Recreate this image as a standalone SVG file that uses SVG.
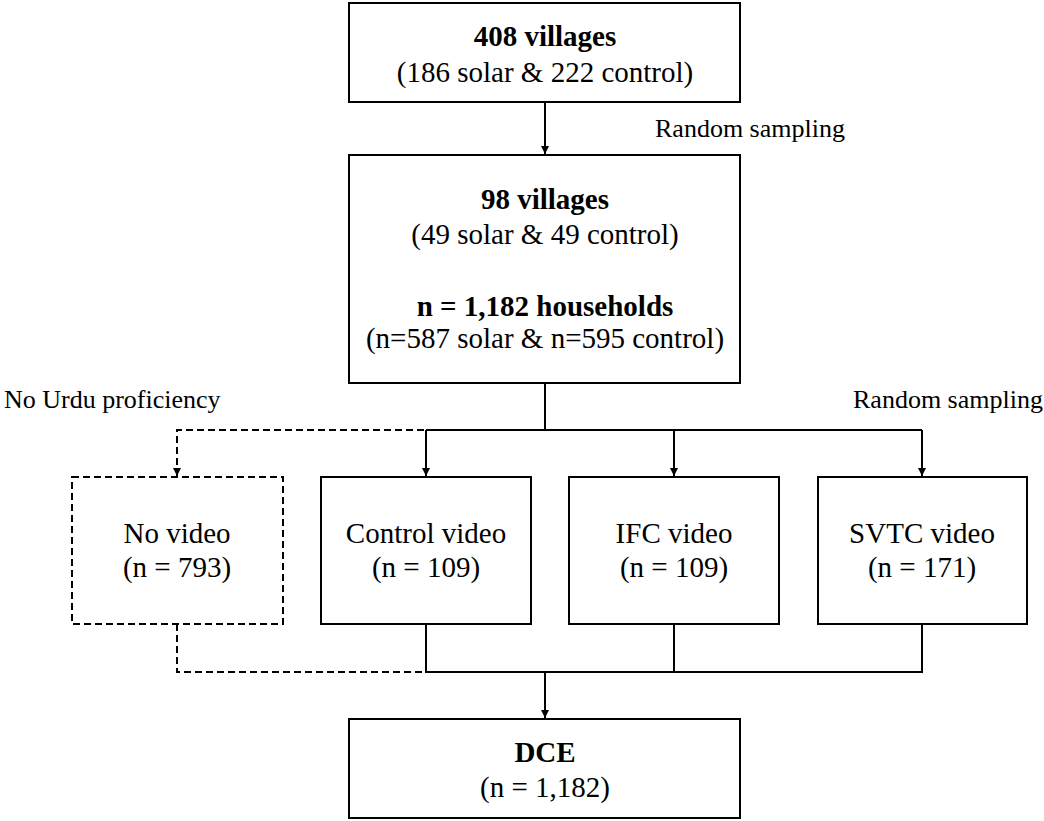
<svg xmlns="http://www.w3.org/2000/svg" width="1044" height="821" viewBox="0 0 1044 821">
  <style>
    .box { fill: #ffffff; stroke: #000000; stroke-width: 2; }
    .dashed { stroke-dasharray: 7 4; }
    text { font-family: "Liberation Serif", "DejaVu Serif", serif; fill: #000000; }
    .t { font-size: 29px; text-anchor: middle; }
    .b { font-weight: bold; }
    .lbl { font-size: 26px; }
    .line { fill: none; stroke: #000000; stroke-width: 2; }
  </style>
  <defs>
    <marker id="arrow" markerUnits="userSpaceOnUse" markerWidth="9" markerHeight="9" refX="8" refY="4" orient="auto">
      <path d="M0,0 L8,4 L0,8 z" fill="#000000"/>
    </marker>
  </defs>
  <rect width="1044" height="821" fill="#ffffff"/>

  <!-- connectors -->
  <g id="connectors">
    <!-- exclusion branch (dashed) -->
    <path class="line dashed" d="M545,430 H177 V476" marker-end="url(#arrow)"/>
    <path class="line dashed" d="M177,624 V672 H426"/>
    <!-- main flow -->
    <path class="line" d="M545,102 V154" marker-end="url(#arrow)"/>
    <path class="line" d="M545,383 V430"/>
    <path class="line" d="M426,430 H922"/>
    <path class="line" d="M426,430 V476" marker-end="url(#arrow)"/>
    <path class="line" d="M674,430 V476" marker-end="url(#arrow)"/>
    <path class="line" d="M922,430 V476" marker-end="url(#arrow)"/>
    <path class="line" d="M426,624 V672 H922 V624"/>
    <path class="line" d="M674,624 V672"/>
    <path class="line" d="M545,672 V718" marker-end="url(#arrow)"/>
  </g>

  <!-- edge labels -->
  <text class="lbl" x="655" y="137">Random sampling</text>
  <text class="lbl" x="853" y="408">Random sampling</text>
  <text class="lbl" x="4" y="408">No Urdu proficiency</text>

  <!-- nodes -->
  <g id="villages-all">
    <rect class="box" x="349" y="3" width="391" height="99"/>
    <text class="t b" x="545" y="46">408 villages</text>
    <text class="t" x="545" y="82">(186 solar &amp; 222 control)</text>
  </g>

  <g id="villages-sampled">
    <rect class="box" x="349" y="155" width="391" height="228"/>
    <text class="t b" x="545" y="209">98 villages</text>
    <text class="t" x="545" y="244">(49 solar &amp; 49 control)</text>
    <text class="t b" x="545" y="316">n = 1,182 households</text>
    <text class="t" x="545" y="348">(n=587 solar &amp; n=595 control)</text>
  </g>

  <g id="no-video">
    <rect class="box dashed" x="72" y="477" width="211" height="147"/>
    <text class="t" x="177" y="543">No video</text>
    <text class="t" x="177" y="577">(n = 793)</text>
  </g>

  <g id="control-video">
    <rect class="box" x="321" y="477" width="210" height="147"/>
    <text class="t" x="426" y="543">Control video</text>
    <text class="t" x="426" y="577">(n = 109)</text>
  </g>

  <g id="ifc-video">
    <rect class="box" x="569" y="477" width="210" height="147"/>
    <text class="t" x="674" y="543">IFC video</text>
    <text class="t" x="674" y="577">(n = 109)</text>
  </g>

  <g id="svtc-video">
    <rect class="box" x="818" y="477" width="209" height="147"/>
    <text class="t" x="922" y="543">SVTC video</text>
    <text class="t" x="922" y="577">(n = 171)</text>
  </g>

  <g id="dce">
    <rect class="box" x="349" y="719" width="391" height="99"/>
    <text class="t b" x="545" y="762">DCE</text>
    <text class="t" x="545" y="797">(n = 1,182)</text>
  </g>
</svg>
